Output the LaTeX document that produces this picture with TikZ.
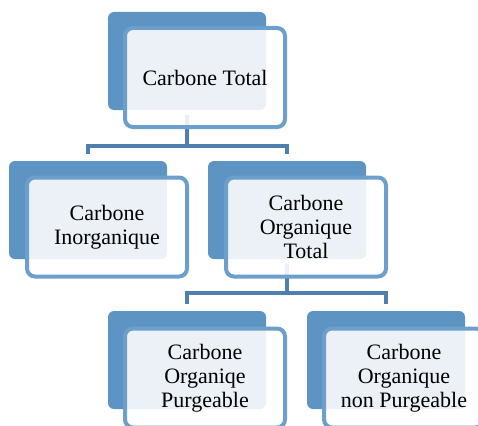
\documentclass[tikz,border=0pt]{standalone}
\usepackage{fontspec}
\setmainfont{Liberation Serif}
\usepackage{xcolor}
\usepackage{tikz}
\usetikzlibrary{positioning}

\definecolor{boxblue}{HTML}{5E94C4}
\definecolor{edgeblue}{HTML}{6C9FCB}
\definecolor{linkblue}{HTML}{4F7FAF}

\tikzset{
  backbox/.style={rectangle, rounded corners=6pt, fill=boxblue, inner sep=0pt,
    minimum width=158pt, minimum height=98pt},
  frontbox/.style={rectangle, rounded corners=8pt, draw=edgeblue, line width=4pt,
    fill=white, fill opacity=0.88, text opacity=1, inner sep=0pt,
    minimum width=160pt, minimum height=99pt, align=center,
    font=\fontsize{22}{24}\selectfont},
  link/.style={draw=linkblue, line width=3.5pt, shorten <=5pt, shorten >=7pt}
}

\begin{document}
\begin{tikzpicture}[x=1pt, y=-1pt]
  \useasboundingbox (0,0) rectangle (478,425);
  \clip (0,0) rectangle (478,425);

  % back boxes
  \node[backbox] (tb) at (187,61) {};
  \node[backbox] (lb) at (88,210) {};
  \node[backbox] (mb) at (287,210) {};
  \node[backbox] (pb) at (187,360) {};
  \node[backbox] (nb) at (386,360) {};

  % connectors
  \coordinate (j1) at (187,146);
  \coordinate (j2) at (287,293);
  \draw[link] (tb.south) -- (j1) -| (lb.north);
  \draw[link, shorten <=0pt] (j1) -| (mb.north);
  \draw[link] (mb.south) -- (j2) -| (pb.north);
  \draw[link, shorten <=0pt] (j2) -| (nb.north);

  % front boxes
  \node[frontbox] (t) at (205,77.5) {Carbone Total};
  \node[frontbox] (l) at (107,227) {Carbone\\Inorganique};
  \node[frontbox] (m) at (306,227) {Carbone\\Organique\\Total};
  \node[frontbox] (p) at (205,378) {Carbone\\Organiqe\\Purgeable};
  \node[frontbox] (n) at (404,378) {Carbone\\Organique\\non Purgeable};
\end{tikzpicture}
\end{document}
